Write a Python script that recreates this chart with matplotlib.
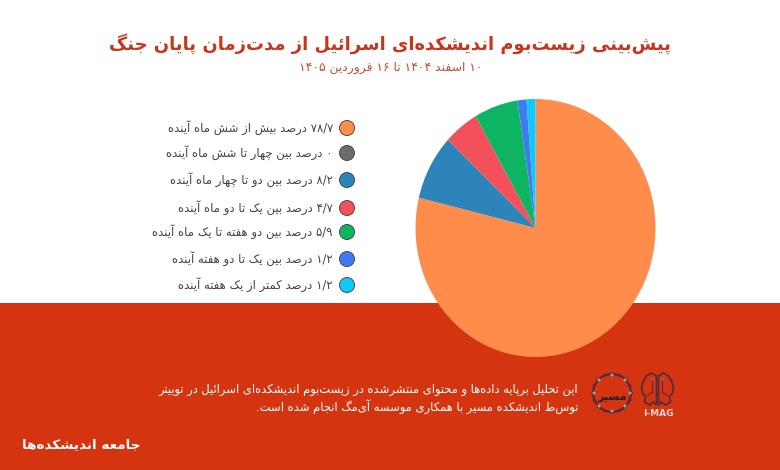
import matplotlib
matplotlib.use('Agg')
import matplotlib.pyplot as plt
from matplotlib.patches import Circle, Polygon, Rectangle, RegularPolygon

W, H = 780, 470

labels = [
    '۷۸/۷ درصد بیش از شش ماه آینده',
    '۰ درصد بین چهار تا شش ماه آینده',
    '۸/۲ درصد بین دو تا چهار ماه آینده',
    '۴/۷ درصد بین یک تا دو ماه آینده',
    '۵/۹ درصد بین دو هفته تا یک ماه آینده',
    '۱/۲ درصد بین یک تا دو هفته آینده',
    '۱/۲ درصد کمتر از یک هفته آینده',
]
values = [78.7, 0, 8.2, 4.7, 5.9, 1.2, 1.2]
colors = ['#FF8C4B', '#6B6B6F', '#2C84B8', '#F2505A', '#0DB563', '#3E7BF0', '#12C8FA']
legend_y = [128, 153, 180, 208, 232, 259, 285]

title = 'پیش\u200cبینی زیست\u200cبوم اندیشکده\u200cای اسرائیل از مدت\u200cزمان پایان جنگ'
subtitle = '۱۰ اسفند ۱۴۰۴ تا ۱۶ فروردین ۱۴۰۵'
note = ['این تحلیل برپایه داده\u200cها و محتوای منتشرشده در زیست\u200cبوم اندیشکده\u200cای اسرائیل در توییتر',
        'توسط اندیشکده مسیر با همکاری موسسه آی\u200cمگ انجام شده است.']
brand = 'جامعه اندیشکده\u200cها'
logo_name = 'مسیر'

RED = '#D4340F'
DARK = '#4E2B3F'

# isolated, final, initial, medial
FORMS = {
    'ا': ('\uFE8D', '\uFE8E', None, None), 'آ': ('\uFE81', '\uFE82', None, None),
    'د': ('\uFEA9', '\uFEAA', None, None), 'ذ': ('\uFEAB', '\uFEAC', None, None),
    'ر': ('\uFEAD', '\uFEAE', None, None), 'ز': ('\uFEAF', '\uFEB0', None, None),
    'و': ('\uFEED', '\uFEEE', None, None),
    'ب': ('\uFE8F', '\uFE90', '\uFE91', '\uFE92'), 'پ': ('\uFB56', '\uFB57', '\uFB58', '\uFB59'),
    'ت': ('\uFE95', '\uFE96', '\uFE97', '\uFE98'), 'ج': ('\uFE9D', '\uFE9E', '\uFE9F', '\uFEA0'),
    'چ': ('\uFB7A', '\uFB7B', '\uFB7C', '\uFB7D'), 'ح': ('\uFEA1', '\uFEA2', '\uFEA3', '\uFEA4'),
    'س': ('\uFEB1', '\uFEB2', '\uFEB3', '\uFEB4'), 'ش': ('\uFEB5', '\uFEB6', '\uFEB7', '\uFEB8'),
    'ص': ('\uFEB9', '\uFEBA', '\uFEBB', '\uFEBC'), 'ع': ('\uFEC9', '\uFECA', '\uFECB', '\uFECC'),
    'ف': ('\uFED1', '\uFED2', '\uFED3', '\uFED4'), 'ک': ('\uFB8E', '\uFB8F', '\uFB90', '\uFB91'),
    'گ': ('\uFB92', '\uFB93', '\uFB94', '\uFB95'), 'ل': ('\uFEDD', '\uFEDE', '\uFEDF', '\uFEE0'),
    'م': ('\uFEE1', '\uFEE2', '\uFEE3', '\uFEE4'), 'ن': ('\uFEE5', '\uFEE6', '\uFEE7', '\uFEE8'),
    'ه': ('\uFEE9', '\uFEEA', '\uFEEB', '\uFEEC'), 'ی': ('\uFBFC', '\uFBFD', '\uFBFE', '\uFBFF'),
    'ئ': ('\uFE89', '\uFE8A', '\uFE8B', '\uFE8C'),
}
DIGITS = '۰۱۲۳۴۵۶۷۸۹/'


def fa(text):
    # no bidi or shaping in matplotlib, so pick the joined forms and flip the line
    out = []
    for i, ch in enumerate(text):
        if ch == '\u200c':
            continue
        if ch not in FORMS:
            out.append(ch)
            continue
        prev = text[i - 1] if i > 0 else ''
        nxt = text[i + 1] if i + 1 < len(text) else ''
        joins_prev = prev in FORMS and FORMS[prev][2] is not None
        joins_next = nxt in FORMS and FORMS[ch][2] is not None
        if joins_prev and joins_next:
            out.append(FORMS[ch][3])
        elif joins_prev:
            out.append(FORMS[ch][1])
        elif joins_next:
            out.append(FORMS[ch][2])
        else:
            out.append(FORMS[ch][0])
    # reverse, keeping the digit runs readable left to right
    res, run = [], []
    for ch in out:
        if ch in DIGITS:
            run.append(ch)
        else:
            res.extend(run[::-1])
            run = []
            res.append(ch)
    res.extend(run[::-1])
    return ''.join(res[::-1])


plt.rcParams['font.family'] = ['DejaVu Sans']
fig = plt.figure(figsize=(W / 100, H / 100), dpi=100, facecolor='white')

# pixel coordinates, y measured from the top
bg = fig.add_axes([0, 0, 1, 1])
bg.set_xlim(0, W)
bg.set_ylim(H, 0)
bg.axis('off')
bg.add_patch(Rectangle((0, 303), W, H - 303, color=RED, lw=0))

# the pie is a bit stretched vertically in the original
cx, cy, rx, ry = 535.5, 228, 120, 129
pie_ax = fig.add_axes([(cx - rx) / W, 1 - (cy + ry) / H, 2 * rx / W, 2 * ry / H])
pie_ax.pie(values, colors=colors, startangle=90, counterclock=False, radius=1)
pie_ax.set_aspect('auto')
pie_ax.set_xlim(-1, 1)
pie_ax.set_ylim(-1, 1)

bg.text(390, 44, fa(title), color='#C9341B', fontsize=12.9, fontweight='bold', ha='center', va='center')
bg.text(391, 68, fa(subtitle), color='#CC4A30', fontsize=8.9, ha='center', va='center')

for lab, col, y in zip(labels, colors, legend_y):
    bg.text(333, y, fa(lab), color='#444444', fontsize=8.4, ha='right', va='center')
    bg.add_patch(Circle((347, y), 7.5, facecolor=col, edgecolor='#3A3A3A', lw=0.6))

bg.text(578, 390, fa(note[0]), color='white', fontsize=8.3, ha='right', va='center')
bg.text(578, 407, fa(note[1]), color='white', fontsize=8.3, ha='right', va='center')
bg.text(81, 445, fa(brand), color='white', fontsize=9.7, fontweight='bold', ha='center', va='center')

# masir emblem: two octagons over each other, dots on the ring
mx, my = 612, 393
for turn in (0, 0.39):
    bg.add_patch(RegularPolygon((mx, my), 8, radius=20, orientation=turn, facecolor='none', edgecolor=DARK, lw=1.1))
dots = [(612, 375), (625, 380), (630, 393), (625, 406), (612, 411), (599, 406), (594, 393), (599, 380)]
for d in dots:
    bg.add_patch(Circle(d, 1.6, facecolor='#8FA3A0', edgecolor='none'))
bg.text(mx, my + 4, fa(logo_name), color='#2A1A2E', fontsize=8, fontweight='bold', ha='center', va='center')

# i-mag brain, right lobe mirrored to the left
lobe = [(1, 376), (6, 373), (11, 376), (14, 381), (16, 387), (15, 393), (12, 397), (13, 402), (8, 405), (4, 402), (1, 405)]
for sign in (-1, 1):
    bg.add_patch(Polygon([(657.5 + sign * x, y) for x, y in lobe], closed=True, facecolor='none', edgecolor=DARK, lw=1.2))
    bg.plot([657.5 + sign * 5, 657.5 + sign * 5, 657.5 + sign * 10], [380, 392, 396], color=DARK, lw=0.8)
    bg.add_patch(Circle((657.5 + sign * 5, 380), 1.2, facecolor='#8FA3A0', edgecolor='none'))
bg.text(658, 413, 'I-MAG', color='#EAD9D0', fontsize=6.5, fontweight='bold', ha='center', va='center')

fig.savefig('out.png', dpi=100)
